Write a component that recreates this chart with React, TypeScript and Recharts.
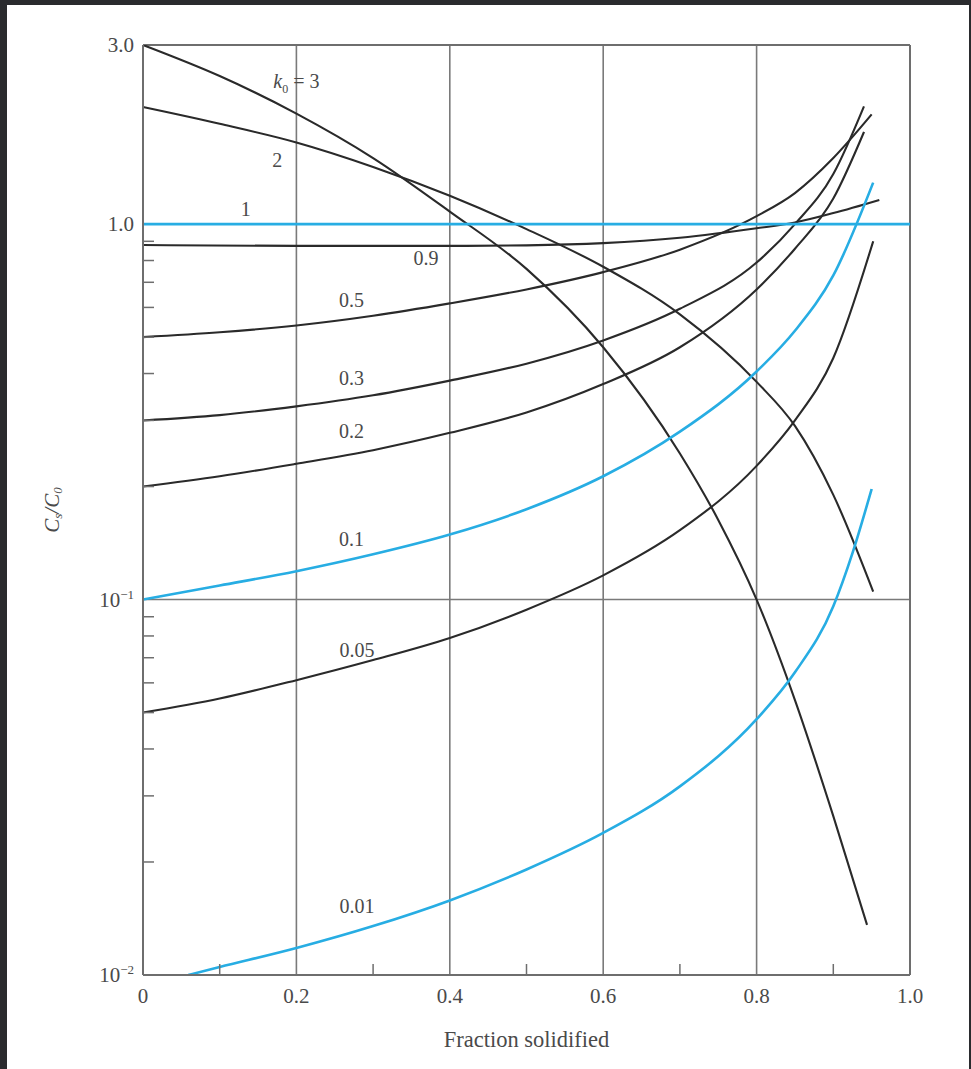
import React from "react";
import { LineChart, Line, XAxis, YAxis, ReferenceLine, ReferenceDot } from "recharts";

type Pt = { f: number; v: number };

// fraction solidified -> Cs/C0
const k3: Pt[] = [
  { f: 0, v: 3 }, { f: 0.1, v: 2.48 }, { f: 0.2, v: 1.97 }, { f: 0.3, v: 1.5 },
  { f: 0.4, v: 1.08 }, { f: 0.5, v: 0.76 }, { f: 0.6, v: 0.47 }, { f: 0.7, v: 0.245 },
  { f: 0.75, v: 0.163 }, { f: 0.8, v: 0.1 }, { f: 0.85, v: 0.054 }, { f: 0.9, v: 0.0265 },
  { f: 0.944, v: 0.0136 },
];
const k2: Pt[] = [
  { f: 0, v: 2.05 }, { f: 0.1, v: 1.85 }, { f: 0.2, v: 1.65 }, { f: 0.3, v: 1.42 },
  { f: 0.4, v: 1.19 }, { f: 0.5, v: 0.97 }, { f: 0.6, v: 0.77 }, { f: 0.7, v: 0.575 },
  { f: 0.8, v: 0.38 }, { f: 0.85, v: 0.29 }, { f: 0.9, v: 0.19 }, { f: 0.952, v: 0.105 },
];
const k1: Pt[] = [{ f: 0, v: 1 }, { f: 1, v: 1 }];
const k09: Pt[] = [
  { f: 0, v: 0.88 }, { f: 0.2, v: 0.875 }, { f: 0.4, v: 0.875 }, { f: 0.5, v: 0.878 },
  { f: 0.6, v: 0.89 }, { f: 0.7, v: 0.92 }, { f: 0.8, v: 0.975 }, { f: 0.85, v: 1.01 },
  { f: 0.9, v: 1.07 }, { f: 0.96, v: 1.16 },
];
const k05: Pt[] = [
  { f: 0, v: 0.5 }, { f: 0.1, v: 0.515 }, { f: 0.2, v: 0.537 }, { f: 0.3, v: 0.57 },
  { f: 0.4, v: 0.615 }, { f: 0.5, v: 0.67 }, { f: 0.6, v: 0.745 }, { f: 0.7, v: 0.855 },
  { f: 0.8, v: 1.05 }, { f: 0.85, v: 1.21 }, { f: 0.9, v: 1.5 }, { f: 0.95, v: 1.96 },
];
const k03: Pt[] = [
  { f: 0, v: 0.3 }, { f: 0.1, v: 0.31 }, { f: 0.2, v: 0.327 }, { f: 0.3, v: 0.35 },
  { f: 0.4, v: 0.383 }, { f: 0.5, v: 0.425 }, { f: 0.6, v: 0.49 }, { f: 0.7, v: 0.595 },
  { f: 0.8, v: 0.79 }, { f: 0.85, v: 1.0 }, { f: 0.9, v: 1.36 }, { f: 0.94, v: 2.06 },
];
const k02: Pt[] = [
  { f: 0, v: 0.2 }, { f: 0.1, v: 0.213 }, { f: 0.2, v: 0.23 }, { f: 0.3, v: 0.25 },
  { f: 0.4, v: 0.278 }, { f: 0.5, v: 0.315 }, { f: 0.6, v: 0.375 }, { f: 0.7, v: 0.47 },
  { f: 0.8, v: 0.67 }, { f: 0.85, v: 0.86 }, { f: 0.9, v: 1.17 }, { f: 0.94, v: 1.76 },
];
const k01: Pt[] = [
  { f: 0, v: 0.1 }, { f: 0.1, v: 0.109 }, { f: 0.2, v: 0.119 }, { f: 0.3, v: 0.132 },
  { f: 0.4, v: 0.149 }, { f: 0.5, v: 0.174 }, { f: 0.6, v: 0.213 }, { f: 0.7, v: 0.28 },
  { f: 0.8, v: 0.405 }, { f: 0.85, v: 0.52 }, { f: 0.9, v: 0.73 }, { f: 0.952, v: 1.29 },
];
const k005: Pt[] = [
  { f: 0, v: 0.05 }, { f: 0.1, v: 0.0545 }, { f: 0.2, v: 0.061 }, { f: 0.3, v: 0.069 },
  { f: 0.4, v: 0.079 }, { f: 0.5, v: 0.094 }, { f: 0.6, v: 0.116 }, { f: 0.7, v: 0.153 },
  { f: 0.8, v: 0.227 }, { f: 0.85, v: 0.3 }, { f: 0.9, v: 0.44 }, { f: 0.952, v: 0.9 },
];
const k001: Pt[] = [
  { f: 0.059, v: 0.01 }, { f: 0.1, v: 0.0105 }, { f: 0.2, v: 0.0118 }, { f: 0.3, v: 0.0135 },
  { f: 0.4, v: 0.0158 }, { f: 0.5, v: 0.0191 }, { f: 0.6, v: 0.0239 }, { f: 0.7, v: 0.0318 },
  { f: 0.8, v: 0.048 }, { f: 0.85, v: 0.064 }, { f: 0.9, v: 0.096 }, { f: 0.925, v: 0.133 },
  { f: 0.95, v: 0.197 },
];

const series = [
  { name: "k3", data: k3, blue: false },
  { name: "k2", data: k2, blue: false },
  { name: "k09", data: k09, blue: false },
  { name: "k05", data: k05, blue: false },
  { name: "k03", data: k03, blue: false },
  { name: "k02", data: k02, blue: false },
  { name: "k005", data: k005, blue: false },
  { name: "k1", data: k1, blue: true },
  { name: "k01", data: k01, blue: true },
  { name: "k001", data: k001, blue: true },
];

// curve labels placed at (f, Cs/C0)
const curveLabels = [
  { text: "k0=3", f: 0.2, v: 2.4 },
  { text: "2", f: 0.175, v: 1.48 },
  { text: "1", f: 0.134, v: 1.1 },
  { text: "0.9", f: 0.369, v: 0.81 },
  { text: "0.5", f: 0.272, v: 0.627 },
  { text: "0.3", f: 0.272, v: 0.389 },
  { text: "0.2", f: 0.272, v: 0.281 },
  { text: "0.1", f: 0.272, v: 0.145 },
  { text: "0.05", f: 0.279, v: 0.0734 },
  { text: "0.01", f: 0.279, v: 0.0153 },
];

const xTicks = [0, 0.1, 0.2, 0.3, 0.4, 0.5, 0.6, 0.7, 0.8, 0.9, 1.0];
const xTickLabels = ["0", "0.2", "0.4", "0.6", "0.8", "1.0"];
const yTicks = [
  0.01, 0.02, 0.03, 0.04, 0.05, 0.06, 0.07, 0.08, 0.09,
  0.1, 0.2, 0.3, 0.4, 0.5, 0.6, 0.7, 0.8, 0.9, 1, 3,
];
const gridX = [0.2, 0.4, 0.6, 0.8];

const FONT = "'Liberation Serif', 'DejaVu Serif', serif";
const TXT = "#4a4a4a";
const AXIS = "#6e6e6e";
const BLACK = "#2a2a2a";
const CYAN = "#27ade3";

const XTick = (props: any) => {
  const { x, y, payload } = props;
  const tenth = Math.round(payload.value * 10);
  if (tenth % 2 === 1) {
    return <line x1={x} x2={x} y1={y} y2={y - 11} stroke={AXIS} strokeWidth={1.5} />;
  }
  return (
    <text x={x} y={y + 28} textAnchor="middle" fontFamily={FONT} fontSize={21} fill={TXT}>
      {xTickLabels[tenth / 2]}
    </text>
  );
};

const YTick = (props: any) => {
  const { x, y, payload } = props;
  const v = payload.value;
  const lbl = (main: string, sup?: string) => (
    <text x={x - 9} y={y + 7} textAnchor="end" fontFamily={FONT} fontSize={21} fill={TXT}>
      {main}
      {sup && (
        <tspan dy={-8} fontSize={13}>
          {sup}
        </tspan>
      )}
    </text>
  );
  if (v === 3) return lbl("3.0");
  if (v === 1) return lbl("1.0");
  if (v === 0.1) return lbl("10", "−1");
  if (v === 0.01) return lbl("10", "−2");
  return <line x1={x} x2={x + 11} y1={y} y2={y} stroke={AXIS} strokeWidth={1.5} />;
};

const CurveLabel = (props: any) => {
  const { cx, cy, text } = props;
  if (text === "k0=3") {
    return (
      <text x={cx} y={cy + 7} textAnchor="middle" fontFamily={FONT} fontSize={20} fill={TXT}>
        <tspan fontStyle="italic">k</tspan>
        <tspan dy={5} fontSize={12}>0</tspan>
        <tspan dy={-5}> = 3</tspan>
      </text>
    );
  }
  return (
    <text x={cx} y={cy + 7} textAnchor="middle" fontFamily={FONT} fontSize={20} fill={TXT}>
      {text}
    </text>
  );
};

const YTitle = (props: any) => {
  const vb = props.viewBox;
  const cx = vb.x - 29;
  const cy = vb.y + vb.height / 2;
  return (
    <text
      x={cx}
      y={cy}
      transform={`rotate(-90 ${cx} ${cy})`}
      textAnchor="middle"
      dominantBaseline="middle"
      fontFamily={FONT}
      fontSize={21}
      fontStyle="italic"
      fill={TXT}
    >
      C<tspan dy={5} fontSize={13}>s</tspan>
      <tspan dy={-5}>/C</tspan>
      <tspan dy={5} fontSize={13}>0</tspan>
    </text>
  );
};

const XTitle = (props: any) => {
  const vb = props.viewBox;
  return (
    <text
      x={vb.x + vb.width / 2}
      y={vb.y + 72}
      textAnchor="middle"
      fontFamily={FONT}
      fontSize={22.5}
      fill={TXT}
    >
      Fraction solidified
    </text>
  );
};

export default function App() {
  return (
    <div style={{ position: "absolute", left: 0, top: 0, width: 971, height: 1069, background: "#2a2b2e" }}>
      <div style={{ position: "absolute", left: 7, top: 5, right: 2, bottom: 0, background: "#ffffff" }} />
      <div style={{ position: "absolute", left: 0, top: 0 }}>
        <LineChart width={971} height={1069} margin={{ top: 45, right: 61, bottom: 64, left: 83 }}>
          <XAxis
            type="number"
            dataKey="f"
            domain={[0, 1]}
            ticks={xTicks}
            interval={0}
            tick={<XTick />}
            tickLine={false}
            tickSize={0}
            tickMargin={0}
            height={30}
            axisLine={{ stroke: AXIS, strokeWidth: 2 }}
            allowDuplicatedCategory={false}
            label={{ content: (p: any) => <XTitle {...p} /> }}
          />
          <YAxis
            type="number"
            scale="log"
            domain={[0.01, 3]}
            allowDataOverflow
            ticks={yTicks}
            interval={0}
            tick={<YTick />}
            tickLine={false}
            tickSize={0}
            tickMargin={0}
            width={60}
            axisLine={{ stroke: AXIS, strokeWidth: 2 }}
            label={{ content: (p: any) => <YTitle {...p} /> }}
          />
          {gridX.map((g) => (
            <ReferenceLine key={`gx${g}`} x={g} stroke="#7a7a7a" strokeWidth={1.6} />
          ))}
          <ReferenceLine y={0.1} stroke="#7a7a7a" strokeWidth={1.6} />
          <ReferenceLine y={3} stroke={AXIS} strokeWidth={2} />
          <ReferenceLine x={1} stroke={AXIS} strokeWidth={2} />
          {series.map((s) => (
            <Line
              key={s.name}
              data={s.data}
              dataKey="v"
              type="monotone"
              stroke={s.blue ? CYAN : BLACK}
              strokeWidth={s.blue ? 2.6 : 2.1}
              dot={false}
              activeDot={false}
              isAnimationActive={false}
            />
          ))}
          {curveLabels.map((c) => (
            <ReferenceDot
              key={c.text}
              x={c.f}
              y={c.v}
              r={1}
              shape={(p: any) => <CurveLabel {...p} text={c.text} />}
            />
          ))}
        </LineChart>
      </div>
    </div>
  );
}
